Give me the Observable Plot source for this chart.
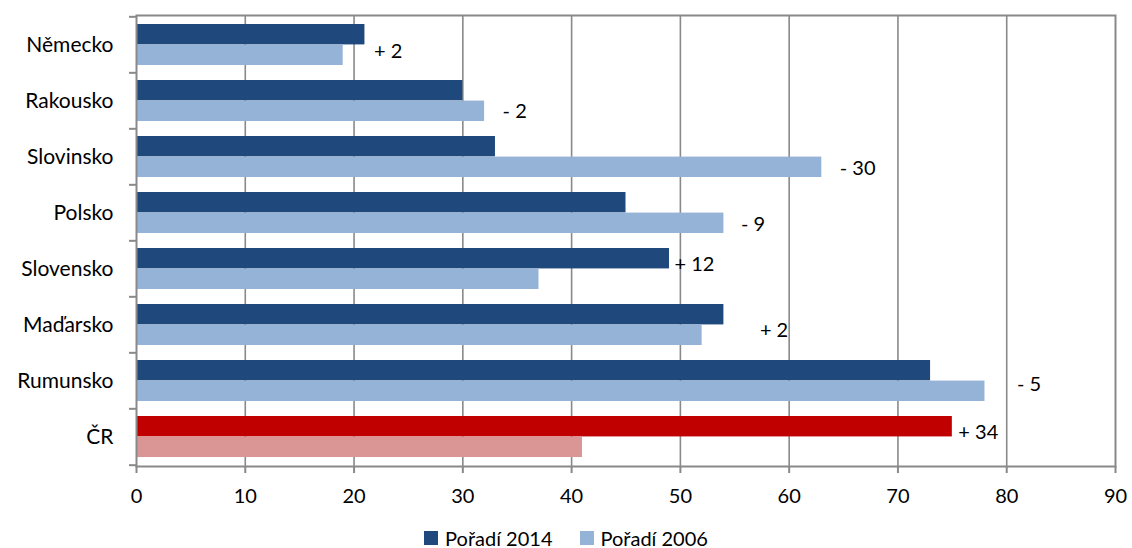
<!DOCTYPE html>
<html>
<head>
<meta charset="utf-8">
<script src="https://cdn.jsdelivr.net/npm/d3@7"></script>
<script src="https://cdn.jsdelivr.net/npm/@observablehq/plot@0.6"></script>
<style>
  html, body { margin: 0; padding: 0; background: #fff; overflow: hidden; }
  #chart { width: 1132px; }
  .legend { display: flex; justify-content: center; align-items: center; gap: 27px;
            font-family: Lato, "Open Sans", sans-serif; font-size: 20px; color: #000;
            height: 20px; padding-top: 12px; padding-left: 0; }
  .legend .item { display: flex; align-items: center; gap: 7px; }
  .legend .sw { width: 14px; height: 14px; display: inline-block; }
</style>
</head>
<body>
<div id="chart"></div>
<script>
// ---- data ----
const countries = ["Německo", "Rakousko", "Slovinsko", "Polsko", "Slovensko", "Maďarsko", "Rumunsko", "ČR"];
const rank2014 = [21, 30, 33, 45, 49, 54, 73, 75];
const rank2006 = [19, 32, 63, 54, 37, 52, 78, 41];
const changeLabels = ["+ 2", "- 2", "- 30", "- 9", "+ 12", "+ 2", "- 5", "+ 34"];
const xTicks = [0, 10, 20, 30, 40, 50, 60, 70, 80, 90];
const seriesNames = ["Pořadí 2014", "Pořadí 2006"];
const highlight = "ČR";

// ---- styles / layout ----
const W = 1132, H = 516, mt = 15, mb = 50, ml = 136, mr = 17;
const col2014 = "#1F497D", col2006 = "#95B3D7", colHi2014 = "#C00000", colHi2006 = "#D99694";
const grey = "#898989";
const pInner = 0.27;
const step = (H - mt - mb) / countries.length;
const half = step * (1 - pInner) / 2;
// label nudges (px) relative to end of the longer bar / band centre
const nudgeX = [9, 18, 18, 17, 5, 36, 32, 6];
const nudgeY = [7, 11, 11.5, 12, -4, 6, 4, -4];

const table = countries.map((c, i) => ({country: c, v2014: rank2014[i], v2006: rank2006[i], label: changeLabels[i]}));

const labelMarks = table.map((d, i) => Plot.text([d], {
  x: r => Math.max(r.v2014, r.v2006), y: "country", text: "label",
  textAnchor: "start", dx: nudgeX[i], dy: nudgeY[i], fill: "#000"
}));

const chart = Plot.plot({
  width: W, height: H,
  marginTop: mt, marginBottom: mb, marginLeft: ml, marginRight: mr,
  style: {fontFamily: "Lato, 'Open Sans', sans-serif", fontSize: "20px", color: "#000", background: "#fff"},
  x: {domain: [0, 90], ticks: xTicks, label: null},
  y: {domain: countries, paddingInner: pInner, paddingOuter: pInner / 2, label: null},
  marks: [
    Plot.gridX(xTicks.slice(1, -1), {stroke: grey, strokeOpacity: 1, strokeWidth: 1.6}),
    Plot.barX(table, {x: "v2014", y: "country", insetBottom: half,
      fill: d => d.country === highlight ? colHi2014 : col2014}),
    Plot.barX(table, {x: "v2006", y: "country", insetTop: half,
      fill: d => d.country === highlight ? colHi2006 : col2006}),
    Plot.frame({stroke: grey, strokeWidth: 2}),
    Plot.axisX({ticks: xTicks, tickSize: 7, text: null, label: null, stroke: grey, strokeWidth: 2}),
    Plot.axisX({ticks: xTicks, tickSize: 0, tickPadding: 22, fill: "#000", label: null, fontSize: 20}),
    Plot.axisY({tickSize: 7, text: null, label: null, stroke: grey, strokeWidth: 2, dy: -step / 2}),
    Plot.axisY({ticks: [countries[countries.length - 1]], tickSize: 7, text: null, label: null, stroke: grey, strokeWidth: 2, dy: step / 2}),
    Plot.axisY({tickSize: 0, tickPadding: 23, fill: "#000", label: null, fontSize: 21}),
    ...labelMarks
  ]
});
document.getElementById("chart").appendChild(chart);

const legend = document.createElement("div");
legend.className = "legend";
[[seriesNames[0], col2014], [seriesNames[1], col2006]].forEach(([name, c]) => {
  const it = document.createElement("span");
  it.className = "item";
  const sw = document.createElement("span");
  sw.className = "sw"; sw.style.background = c;
  const t = document.createElement("span");
  t.textContent = name;
  it.appendChild(sw); it.appendChild(t);
  legend.appendChild(it);
});
document.getElementById("chart").appendChild(legend);
</script>
</body>
</html>
